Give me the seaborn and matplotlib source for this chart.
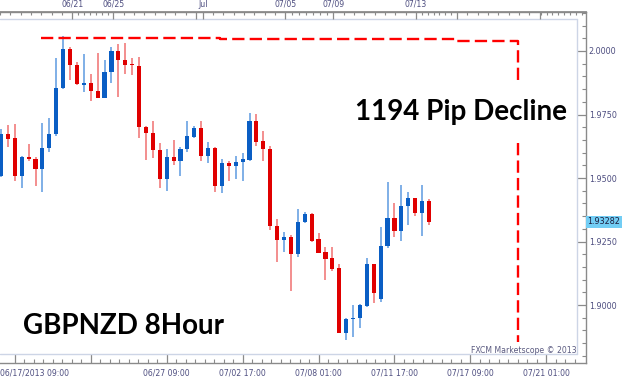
import numpy as np
import pandas as pd
import matplotlib
matplotlib.use("Agg")
import matplotlib.pyplot as plt
import matplotlib.transforms as mtrans
import seaborn as sns

# ---------------- data (GBPNZD, 8-hour candles) ----------------
opens = [1.9508, 1.9673, 1.9657, 1.9508, 1.9583, 1.9575, 1.9535, 1.9618, 1.9673, 1.9854,
         2.0008, 1.9945, 1.9866, 1.9874, 1.9843, 1.9815, 1.9917, 2.0000, 1.9965, 1.9949,
         1.9941, 1.9701, 1.9677, 1.9610, 1.9496, 1.9583, 1.9567, 1.9614, 1.9661, 1.9697,
         1.9587, 1.9618, 1.9469, 1.9559, 1.9547, 1.9563, 1.9571, 1.9724, 1.9646, 1.9614,
         1.9311, 1.9256, 1.9268, 1.9201, 1.9327, 1.9358, 1.9260, 1.9209, 1.9185, 1.9146,
         1.8890, 1.8945, 1.8949, 1.8996, 1.9161, 1.9025, 1.9232, 1.9343, 1.9291, 1.9390,
         1.9421, 1.9362, 1.9409]
highs = [1.9693, 1.9709, 1.9713, 1.9587, 1.9634, 1.9583, 1.9717, 1.9736, 1.9972, 2.0058,
         2.0016, 1.9957, 1.9988, 1.9909, 1.9992, 1.9965, 2.0016, 2.0028, 2.0031, 1.9972,
         1.9976, 1.9703, 1.9724, 1.9638, 1.9614, 1.9650, 1.9622, 1.9724, 1.9705, 1.9724,
         1.9642, 1.9622, 1.9575, 1.9567, 1.9587, 1.9598, 1.9756, 1.9752, 1.9685, 1.9626,
         1.9339, 1.9287, 1.9276, 1.9378, 1.9366, 1.9362, 1.9283, 1.9228, 1.9228, 1.9161,
         1.8947, 1.9000, 1.9002, 1.9185, 1.9163, 1.9307, 1.9484, 1.9402, 1.9472, 1.9445,
         1.9423, 1.9472, 1.9417]
lows = [1.9504, 1.9622, 1.9488, 1.9461, 1.9567, 1.9469, 1.9445, 1.9602, 1.9665, 1.9850,
        1.9886, 1.9868, 1.9839, 1.9803, 1.9813, 1.9813, 1.9874, 1.9819, 1.9909, 1.9906,
        1.9657, 1.9571, 1.9579, 1.9461, 1.9449, 1.9551, 1.9508, 1.9602, 1.9659, 1.9567,
        1.9559, 1.9445, 1.9441, 1.9488, 1.9496, 1.9488, 1.9567, 1.9626, 1.9567, 1.9295,
        1.9169, 1.9209, 1.9055, 1.9189, 1.9323, 1.9248, 1.9203, 1.9098, 1.9134, 1.8888,
        1.8864, 1.8874, 1.8909, 1.8992, 1.9008, 1.9012, 1.9224, 1.9268, 1.9252, 1.9315,
        1.9350, 1.9272, 1.9315]
closes = [1.9673, 1.9654, 1.9508, 1.9583, 1.9575, 1.9535, 1.9618, 1.9673, 1.9854, 2.0008,
          1.9945, 1.9870, 1.9874, 1.9843, 1.9815, 1.9917, 2.0000, 1.9965, 1.9945, 1.9945,
          1.9701, 1.9677, 1.9610, 1.9496, 1.9583, 1.9567, 1.9614, 1.9665, 1.9697, 1.9587,
          1.9618, 1.9469, 1.9559, 1.9547, 1.9563, 1.9575, 1.9724, 1.9642, 1.9614, 1.9311,
          1.9256, 1.9268, 1.9201, 1.9327, 1.9358, 1.9252, 1.9205, 1.9181, 1.9142, 1.8890,
          1.8945, 1.8949, 1.9000, 1.9161, 1.9047, 1.9232, 1.9343, 1.9291, 1.9390, 1.9421,
          1.9362, 1.9409, 1.93282]

bottom_tick_pos = [2, 13, 24, 35, 46, 57, 68, 79]
bottom_tick_labels = ["06/17/2013 09:00", "", "06/27 09:00", "07/02 17:00", "07/08 01:00",
                      "07/11 17:00", "07/17 09:00", "07/21 01:00"]
top_tick_pos = [10, 16, 28, 29, 41, 48, 60, 66, 78]
top_tick_labels = ["06/21", "06/25", "", "Jul", "07/05", "07/09", "07/13", "", ""]
price_ticks = [1.9000, 1.9250, 1.9500, 1.9750, 2.0000]
price_labels = ["1.9000", "1.9250", "1.9500", "1.9750", "2.0000"]
last_price = 1.93282
last_price_label = "1.93282"
decline_levels = [2.0052, 2.0046, 2.0041]
decline_label = "1194 Pip Decline"
pair_label = "GBPNZD 8Hour"
credit_label = "FXCM Marketscope \u00a9 2013"

df = pd.DataFrame({"idx": np.arange(len(opens)), "open": opens, "high": highs,
                   "low": lows, "close": closes})
df["up"] = df["close"] >= df["open"]

# ---------------- style ----------------
sns.set_theme(style="white")
plt.rcParams["font.family"] = ["DejaVu Sans"]

BLUE = "#0a5ec4"
RED = "#e00000"
BLUE_W = "#5d9ae0"
RED_W = "#f07070"
AX_COL = "#8a8a8a"
LBL_COL = "#4e4e80"
BORDER = "#cdd5e6"

W, H = 624, 379
fig = plt.figure(figsize=(W / 100, H / 100), dpi=100)
fig.patch.set_facecolor("white")

# outer frame in pixels: x 0..586, y 12..363
px_l, px_r, px_t, px_b = 0, 586, 12, 363
ax = fig.add_axes([px_l / W, 1 - px_b / H, (px_r - px_l) / W, (px_b - px_t) / H])
ax.set_facecolor("white")

step = 6.903
x0 = 1.0
xlim = ((px_l - x0) / step, (px_r - x0) / step)
ppx = 0.0003937
ylim = (2.0 - (px_b - 51) * ppx, 2.0 + (51 - px_t) * ppx)
ax.set_xlim(*xlim)
ax.set_ylim(*ylim)

# inner light border
inner_top = 2.0 + (51 - 19) * ppx
inner_bot = 2.0 - (354 - 51) * ppx
inner_right = (577 - x0) / step
ax.plot([xlim[0], inner_right], [inner_top, inner_top], color=BORDER, lw=1.0, zorder=1)
ax.plot([xlim[0], inner_right], [inner_bot, inner_bot], color=BORDER, lw=1.0, zorder=1)
ax.plot([inner_right, inner_right], [inner_bot, inner_top], color=BORDER, lw=1.0, zorder=1)

# candles
wick_cols = np.where(df["up"], BLUE_W, RED_W)
body_cols = np.where(df["up"], BLUE, RED)
ax.vlines(df["idx"], df["low"], df["high"], colors=wick_cols, lw=1.1, zorder=2)
body_bottom = np.minimum(df["open"], df["close"])
body_h = np.maximum(np.abs(df["close"] - df["open"]), 0.0005)
ax.bar(df["idx"], body_h, bottom=body_bottom, width=0.6, color=body_cols,
       linewidth=0, zorder=3)

# decline annotation (red dashed)
xs_start, xs_step1, xs_step2, xs_v = 5.8, 31.7, 66.1, 74.9
dash_kw = dict(color="#ff0000", lw=1.7, dashes=(5.2, 2.2), zorder=4, solid_capstyle="butt",
               dash_capstyle="butt")
ax.plot([xs_start, xs_step1, xs_step1, xs_step2, xs_step2, xs_v, xs_v],
        [decline_levels[0], decline_levels[0], decline_levels[1], decline_levels[1],
         decline_levels[2], decline_levels[2], 2.0 - (82 - 51) * ppx], **dash_kw)
ax.plot([xs_v, xs_v], [2.0 - (143 - 51) * ppx, 2.0 - (342 - 51) * ppx], **dash_kw)

ax.text(66.6, 2.0 - (112 - 51) * ppx, decline_label, ha="center", va="center",
        fontsize=20, fontweight="bold", family=["Lato", "DejaVu Sans"], color="black", zorder=5)
ax.text((23 - x0) / step, 2.0 - (326 - 51) * ppx, pair_label, ha="left", va="center",
        fontsize=20, fontweight="bold", family=["Lato", "DejaVu Sans"], color="black", zorder=5)
ax.text(inner_right - 0.1, 2.0 - (350.5 - 51) * ppx, credit_label, ha="right", va="center",
        fontsize=5.6, color="#5a5a80", zorder=5)

# spines
for s in ["left"]:
    ax.spines[s].set_visible(False)
for s in ["top", "right", "bottom"]:
    ax.spines[s].set_color(AX_COL)
    ax.spines[s].set_linewidth(1.0)

# right price axis
ax.yaxis.tick_right()
ax.set_yticks(price_ticks)
ax.set_yticklabels(price_labels)
ax.set_yticks(np.arange(1.880, 2.0151, 0.005), minor=True)
ax.tick_params(axis="y", which="major", direction="in", length=6.5, width=0.9, color=AX_COL,
               labelsize=5.8, labelcolor=LBL_COL, pad=2, left=False, right=True)
ax.tick_params(axis="y", which="minor", direction="in", length=3.0, width=0.8, color=AX_COL,
               left=False, right=True)

# bottom time axis
ax.set_xticks(bottom_tick_pos)
ax.set_xticklabels(bottom_tick_labels)
ax.set_xticks(np.arange(2, 84, 11 / 8), minor=True)
ax.tick_params(axis="x", which="major", direction="in", length=6.5, width=0.9, color=AX_COL,
               labelsize=5.6, labelcolor=LBL_COL, pad=4, top=False, bottom=True)
ax.tick_params(axis="x", which="minor", direction="in", length=3.0, width=0.8, color=AX_COL,
               top=False, bottom=True)
first = ax.get_xticklabels()[0]
first.set_horizontalalignment("left")
first.set_transform(first.get_transform() + mtrans.ScaledTranslation(-0.15, 0, fig.dpi_scale_trans))
ax.grid(False)

# top date axis
axt = ax.twiny()
axt.set_xlim(*xlim)
for s in ["left", "right", "bottom"]:
    axt.spines[s].set_visible(False)
axt.spines["top"].set_color(AX_COL)
axt.set_xticks(top_tick_pos)
axt.set_xticklabels(top_tick_labels)
seg = [(-1.5, 10, 1.5), (10, 16, 6 / 7), (16, 28, 1.5), (29, 41, 1.5), (41, 48, 1.0),
       (48, 60, 1.5), (60, 66, 6 / 7), (66, 78, 1.5), (78, 85, 6 / 7)]
minors = []
for a, b, d in seg:
    minors.extend(list(np.arange(b - d, a + 1e-6, -d)))
axt.set_xticks(sorted(minors), minor=True)
axt.tick_params(axis="x", which="major", direction="in", length=5, width=0.9, color=AX_COL,
                labelsize=5.6, labelcolor=LBL_COL, pad=2.5, top=True, bottom=False)
axt.tick_params(axis="x", which="minor", direction="in", length=2.2, width=0.8, color=AX_COL,
                top=True, bottom=False)
axt.grid(False)

# current price tag
blend = mtrans.blended_transform_factory(ax.transAxes, ax.transData)
ax.text(1.0 + 1.5 / 586, last_price, last_price_label, transform=blend, ha="left", va="center",
        fontsize=5.8, color="#1c1c3c",
        bbox=dict(boxstyle="square,pad=0.18", fc="#72cdf4", ec="none"), zorder=6, clip_on=False)

fig.savefig("out.png", dpi=100)
